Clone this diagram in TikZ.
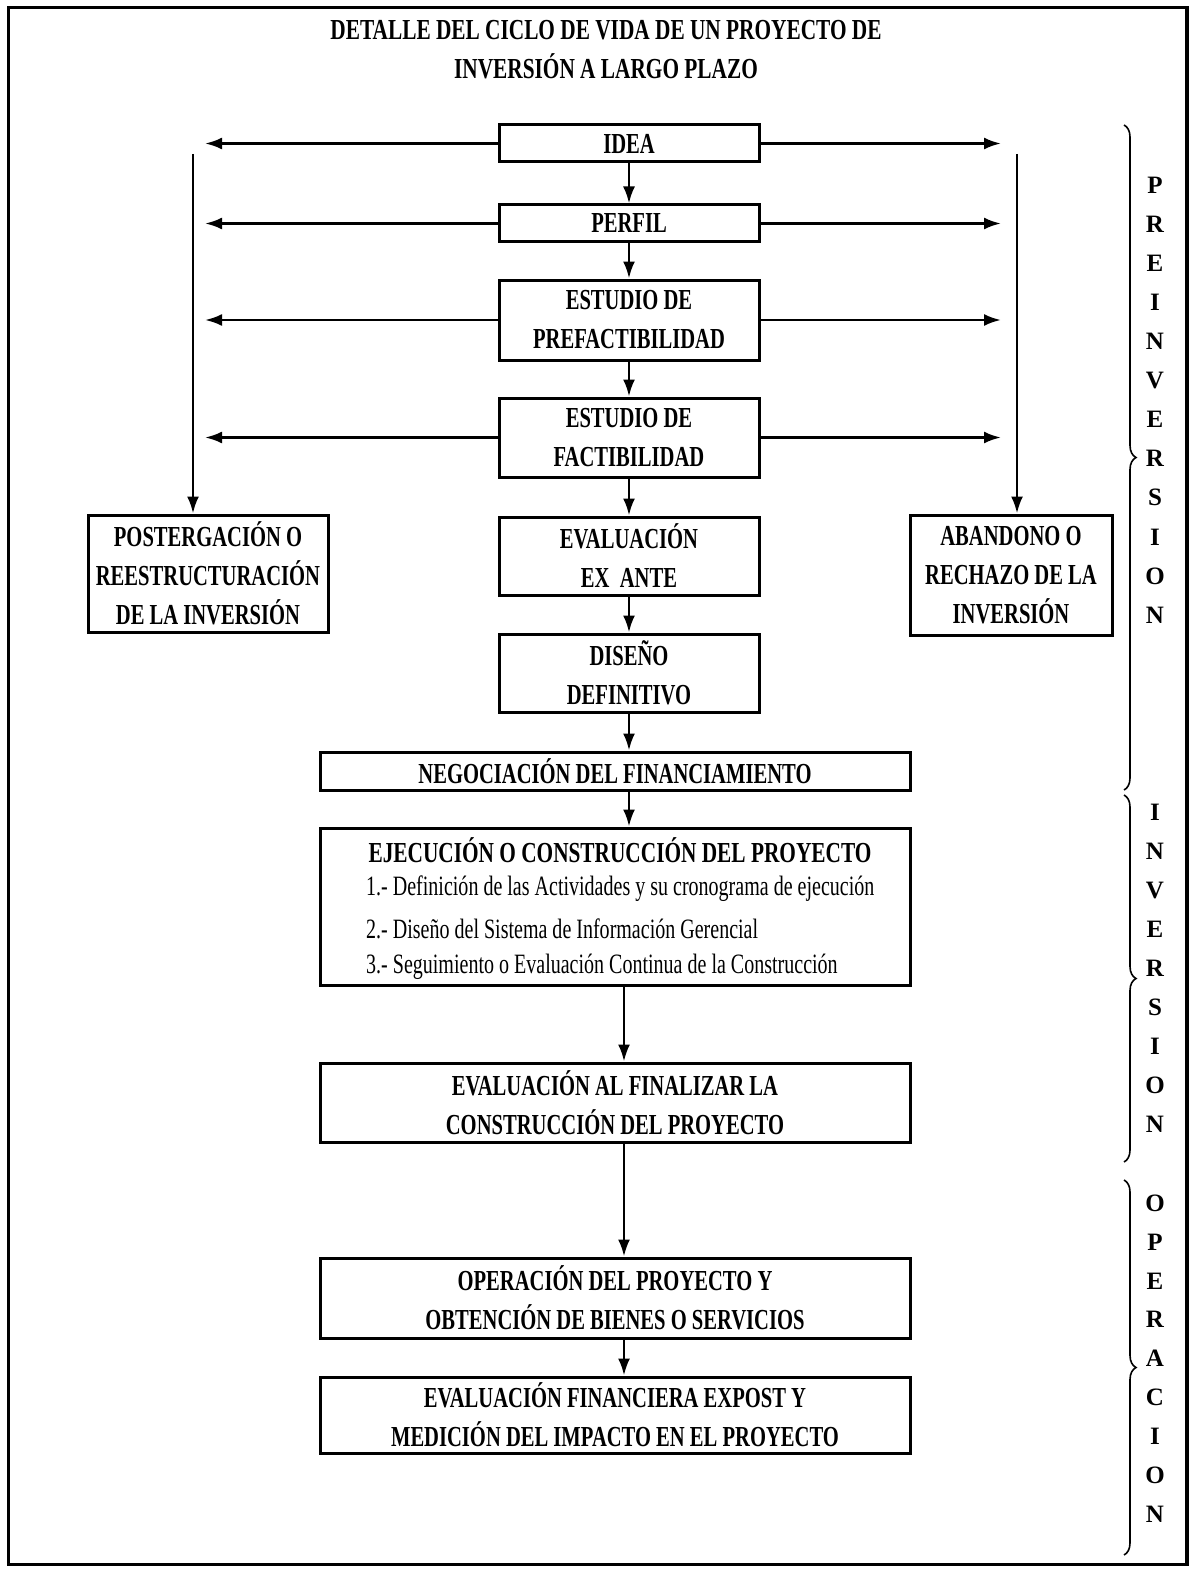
\documentclass[tikz,border=0pt]{standalone}
\usepackage{fontspec}
\setmainfont{Liberation Serif}
\newfontfamily\cond[FakeStretch=0.71]{Liberation Serif}
\newfontfamily\condi[FakeStretch=0.715]{Liberation Serif}
\newfontfamily\condt[FakeStretch=0.735]{Liberation Serif}
\usetikzlibrary{arrows.meta,decorations.pathreplacing}

\begin{document}
\begin{tikzpicture}[x=1pt,y=-1pt,
  box/.style={draw,line width=3pt,inner sep=0pt,align=center,
    font=\cond\bfseries\fontsize{29}{39}\selectfont},
  ttl/.style={inner sep=0pt,font=\condt\bfseries\fontsize{29}{36}\selectfont},
  item/.style={inner sep=0pt,anchor=west,font=\condi\fontsize{28}{30}\selectfont},
  arr/.style={line width=2.6pt,-{Latex[length=17pt,width=12pt]}},
  phase/.style={inner sep=0pt,font=\bfseries\fontsize{25}{25}\selectfont},
  brc/.style={line width=1.6pt,decorate,decoration={brace,amplitude=12pt}}]

\useasboundingbox (0,0) rectangle (1193,1570);

% outer frame
\draw[line width=3pt] (8,8) rectangle (1187,1564);
\draw[line width=4.5pt] (1187,8) -- (1187,1564);

% heading
\node[ttl] (title1) at (606,30) {DETALLE DEL CICLO DE VIDA DE UN PROYECTO DE};
\node[ttl] (title2) at (606,66) {INVERSIÓN A LARGO PLAZO};

% central column
\node[box,minimum width=260,minimum height=37] (idea) at (629,143.5) {IDEA};
\node[box,minimum width=260,minimum height=37] (perfil) at (629,223.5) {PERFIL};
\node[box,minimum width=260,minimum height=80] (prefact) at (629,320) {ESTUDIO DE\\PREFACTIBILIDAD};
\node[box,minimum width=260,minimum height=79] (fact) at (629,437.5) {ESTUDIO DE\\FACTIBILIDAD};
\node[box,minimum width=260,minimum height=78] (evex) at (629,556) {EVALUACIÓN\\EX\ \ ANTE};
\node[box,minimum width=260,minimum height=78] (diseno) at (629,673) {DISEÑO\\DEFINITIVO};

% side outcomes
\node[box,minimum width=240,minimum height=117] (post) at (208,573.5) {POSTERGACIÓN O\\REESTRUCTURACIÓN\\DE LA INVERSIÓN};
\node[box,minimum width=202,minimum height=120] (aban) at (1011,575) {ABANDONO O\\RECHAZO DE LA\\INVERSIÓN};

% wide boxes
\node[box,minimum width=590,minimum height=38] (negoc) at (615,771) {NEGOCIACIÓN DEL FINANCIAMIENTO};
\node[box,minimum width=590,minimum height=157] (ejec) at (615,906.5) {};
\node[ttl] (ejt) at (620,850) {EJECUCIÓN O CONSTRUCCIÓN DEL PROYECTO};
\node[item] (ej1) at (366,889) {1.- Definición de las Actividades y su cronograma de ejecución};
\node[item] (ej2) at (366,929) {2.- Diseño del Sistema de Información Gerencial};
\node[item] (ej3) at (366,967) {3.- Seguimiento o Evaluación Continua de la Construcción};
\node[box,minimum width=590,minimum height=79] (evfin) at (615,1102.5) {EVALUACIÓN AL FINALIZAR LA\\CONSTRUCCIÓN DEL PROYECTO};
\node[box,minimum width=590,minimum height=80] (oper) at (615,1298) {OPERACIÓN DEL PROYECTO Y\\OBTENCIÓN DE BIENES O SERVICIOS};
\node[box,minimum width=590,minimum height=76] (evexp) at (615,1415) {EVALUACIÓN FINANCIERA EXPOST Y\\MEDICIÓN DEL IMPACTO EN EL PROYECTO};

% main flow
\draw[arr] (idea.south) -- (perfil.north);
\draw[arr] (perfil.south) -- (prefact.north);
\draw[arr] (prefact.south) -- (fact.north);
\draw[arr] (fact.south) -- (evex.north);
\draw[arr] (evex.south) -- (diseno.north);
\draw[arr] (diseno.south) -- (negoc.north -| diseno.south);
\draw[arr] (negoc.south -| diseno.south) -- (ejec.north -| diseno.south);
\coordinate (colx) at (624,0);
\draw[arr] (ejec.south -| colx) -- (evfin.north -| colx);
\draw[arr] (evfin.south -| colx) -- (oper.north -| colx);
\draw[arr] (oper.south -| colx) -- (evexp.north -| colx);

% branches to both sides
\coordinate (lx) at (205,0);
\coordinate (rx) at (1001,0);
\foreach \b in {idea,perfil,prefact,fact}{
  \draw[arr] (\b.west) -- (\b.west -| lx);
  \draw[arr] (\b.east) -- (\b.east -| rx);
}
\coordinate (ltop) at (193,154);
\coordinate (rtop) at (1017,154);
\draw[arr] (ltop) -- (ltop |- post.north);
\draw[arr] (rtop) -- (rtop |- aban.north);

% phase braces
\draw[brc] (1124,125) -- (1124,790);
\draw[brc] (1124,795) -- (1124,1162);
\draw[brc] (1124,1180) -- (1124,1555);

% phase labels
\foreach \l [count=\i] in {P,R,E,I,N,V,E,R,S,I,O,N}
  \node[phase] (pre\i) at (1155,{185+39.1*(\i-1)}) {\l};
\foreach \l [count=\i] in {I,N,V,E,R,S,I,O,N}
  \node[phase] (inv\i) at (1155,{812+39.1*(\i-1)}) {\l};
\foreach \l [count=\i] in {O,P,E,R,A,C,I,O,N}
  \node[phase] (ope\i) at (1155,{1203+38.9*(\i-1)}) {\l};
\end{tikzpicture}
\end{document}
